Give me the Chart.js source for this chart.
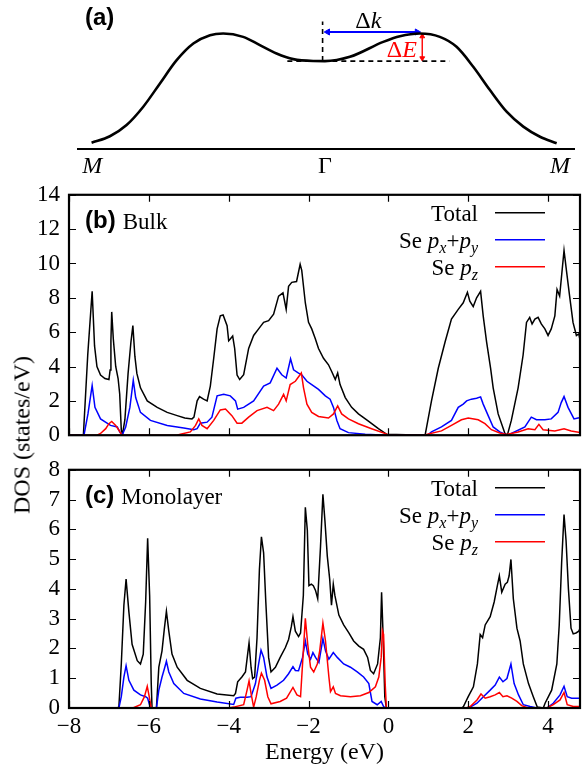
<!DOCTYPE html>
<html>
<head>
<meta charset="utf-8">
<title>Se DOS</title>
<script src="https://cdn.jsdelivr.net/npm/chart.js@4.4.1/dist/chart.umd.min.js"></script>
<style>
  body { margin: 0; background: #fff; }
  #fig { position: relative; width: 582px; height: 771px; overflow: hidden; background: #fff; }
  #fig canvas { position: absolute; left: 0; }
  #dosTitle {
    position: absolute; left: 22px; top: 435px;
    transform: translate(-50%, -50%) rotate(-90deg);
    font: 24px "Liberation Serif", serif; white-space: nowrap; color: #000;
  }
</style>
</head>
<body>
<div id="fig">
  <canvas id="bandChart" width="582" height="180" style="top:0"></canvas>
  <canvas id="bulkChart" width="582" height="286" style="top:172px"></canvas>
  <canvas id="monoChart" width="582" height="324" style="top:447px"></canvas>
  <div id="dosTitle">DOS (states/eV)</div>
</div>
<script>
// ---- tick values ----
const energyTicks = [-8, -6, -4, -2, 0, 2, 4];
const bulkTicks = [0, 2, 4, 6, 8, 10, 12, 14];
const monoTicks = [0, 1, 2, 3, 4, 5, 6, 7, 8];

// ---- (a) band sketch along M - Γ - M (k in units of ΓM) ----
const bandK = [-0.993, -0.915, -0.844, -0.773, -0.702, -0.631, -0.56, -0.489, -0.433, -0.348, -0.277, -0.206, -0.135, -0.05, 0,
               0.106, 0.248, 0.319, 0.404, 0.489, 0.56, 0.631, 0.702, 0.773, 0.844, 0.915, 0.986];
const bandE = [0.054, 0.11, 0.207, 0.365, 0.566, 0.767, 0.911, 0.983, 0.997, 0.968, 0.897, 0.825, 0.776, 0.76, 0.759,
               0.796, 0.925, 0.974, 0.997, 0.968, 0.882, 0.71, 0.509, 0.322, 0.193, 0.106, 0.05];
const valleyE = 0.759;
const peakE = 0.997;
const peakK = 0.404;
const levelK = [-0.16, 0.53];
const gammaMarkTop = 1.10;
const deltaKLevel = 1.01;

// ---- (b) bulk DOS ----
const bulkTotalE = [-8, -7.64, -7.53, -7.42, -7.36, -7.3, -7.21, -7.1, -7.0, -6.97, -6.95, -6.93, -6.89, -6.83, -6.77, -6.73, -6.69, -6.66,
  -6.6, -6.52, -6.45, -6.4, -6.35, -6.3, -6.21, -6.04, -5.79, -5.54, -5.29, -5.1, -4.92, -4.87, -4.79, -4.73, -4.63, -4.54, -4.46,
  -4.375, -4.29, -4.21, -4.14, -4.04, -4.0, -3.96, -3.9, -3.85, -3.79, -3.725, -3.625, -3.5, -3.375, -3.25, -3.125, -3.0, -2.875,
  -2.75, -2.64, -2.56, -2.5, -2.42, -2.3, -2.21, -2.17, -2.08, -2.0, -1.92, -1.83, -1.75, -1.625, -1.5, -1.42, -1.33, -1.27, -1.21,
  -1.08, -0.92, -0.75, -0.5, -0.25, -0.04, 0.92, 1.08, 1.25, 1.42, 1.58, 1.75, 1.875, 1.98, 2.04, 2.125, 2.21, 2.31, 2.375, 2.46,
  2.56, 2.625, 2.75, 2.92, 2.98, 3.08, 3.25, 3.375, 3.46, 3.54, 3.6, 3.67, 3.75, 3.83, 3.92, 4.0, 4.08, 4.17, 4.225, 4.29, 4.4,
  4.46, 4.54, 4.625, 4.71, 4.77, 4.875];
const bulkTotal = [0, 0, 4.7, 8.38, 5.2, 4.0, 3.5, 3.3, 3.24, 3.8, 5.5, 7.18, 5.6, 4.0, 3.3, 2.4, 0.3, 0.05,
  0.9, 3.6, 5.4, 6.38, 4.6, 3.6, 2.76, 2.0, 1.62, 1.33, 1.14, 1.0, 0.95, 1.05, 2.0, 2.25, 2.1, 2.0, 2.86,
  4.48, 6.19, 6.95, 7.0, 6.38, 5.5, 5.6, 5.77, 5.05, 3.5, 3.24, 3.52, 5.05, 5.81, 6.19, 6.57, 6.67, 7.05,
  8.1, 8.29, 7.33, 8.67, 8.9, 8.95, 9.95, 9.6, 7.7, 6.57, 6.19, 5.62, 5.05, 4.48, 4.1, 3.71, 3.24, 3.62, 2.95,
  2.19, 1.62, 1.24, 0.82, 0.38, 0.05, 0, 2.0, 3.9, 5.43, 6.76, 7.33, 7.71, 8.32, 7.81, 7.49, 8.0, 8.38, 6.95, 5.43,
  3.9, 2.76, 1.24, 0.1, 0, 0.86, 2.76, 4.67, 6.57, 6.86, 6.48, 6.76, 6.86, 6.48, 6.19, 5.81, 6.19, 6.95, 8.48, 8.1, 10.76,
  9.6, 8.1, 6.57, 5.81, 5.9, 4.67];

const bulkXyE = [-8, -7.625, -7.525, -7.42, -7.35, -7.21, -6.96, -6.79, -6.73, -6.67, -6.58, -6.475, -6.39, -6.33, -6.21, -5.96,
  -5.54, -5.125, -4.875, -4.79, -4.71, -4.54, -4.42, -4.29, -4.125, -3.96, -3.83, -3.775, -3.625, -3.375, -3.125, -2.96, -2.79,
  -2.67, -2.56, -2.45, -2.375, -2.25, -2.17, -2.04, -1.92, -1.75, -1.58, -1.46, -1.375, -1.29, -1.21, -1.0, -0.58, -0.04, 0.98,
  1.08, 1.33, 1.58, 1.75, 1.875, 1.96, 2.08, 2.21, 2.31, 2.375, 2.5, 2.625, 2.79, 2.92, 3.0, 3.08, 3.42, 3.58, 3.71, 3.92, 4.08,
  4.25, 4.33, 4.4, 4.5, 4.65, 4.75, 4.875];
const bulkXy = [0, 0, 1.24, 2.9, 1.62, 0.95, 0.57, 0.48, 0.19, 0, 0.48, 1.62, 3.2, 2.19, 1.33, 0.86,
  0.57, 0.42, 0.32, 0.38, 0.7, 0.76, 1.05, 2.29, 2.38, 2.29, 2.0, 1.52, 1.62, 2.0, 2.86, 3.05, 3.9,
  3.52, 3.33, 4.45, 3.81, 3.62, 3.52, 3.14, 2.95, 2.67, 2.29, 2.1, 1.62, 0.86, 0.38, 0.15, 0.06, 0, 0,
  0.19, 0.48, 0.86, 1.62, 1.81, 2.0, 2.1, 2.15, 2.23, 1.81, 1.14, 0.48, 0.19, 0.06, 0, 0.1, 0.48, 1.05, 0.9, 0.9, 0.95,
  1.33, 1.9, 2.25, 1.62, 0.95, 1.0, 1.05];

const bulkZE = [-8, -7.3, -7.21, -7.08, -7.0, -6.93, -6.83, -6.75, -6.69, -6.66, -5.3, -5.21, -4.96, -4.83, -4.75, -4.67, -4.54,
  -4.375, -4.21, -4.08, -3.92, -3.79, -3.67, -3.5, -3.29, -3.04, -2.875, -2.75, -2.625, -2.56, -2.46, -2.33, -2.18, -2.125, -2.04,
  -1.92, -1.75, -1.5, -1.375, -1.27, -1.17, -1.0, -0.75, -0.42, -0.04, 0.0, 0.9, 0.98, 1.33, 1.58, 1.83, 2.0, 2.25, 2.42, 2.58,
  2.79, 2.96, 3.25, 3.5, 3.67, 3.77, 3.875, 4.17, 4.4, 4.58, 4.875];
const bulkZ = [0, 0, 0.1, 0.38, 0.67, 0.8, 0.57, 0.29, 0.06, 0, 0, 0.06, 0.19, 0.57, 0.95, 0.57, 0.38,
  0.86, 1.47, 1.52, 1.14, 0.7, 0.7, 1.05, 1.43, 1.62, 1.43, 1.81, 2.38, 2.0, 2.95, 3.14, 3.62, 2.76, 1.81,
  1.33, 1.09, 1.0, 1.24, 1.71, 1.24, 0.95, 0.67, 0.38, 0.06, 0, 0, 0.06, 0.25, 0.57, 0.9, 1.0, 0.9, 0.67, 0.32,
  0.13, 0.04, 0.19, 0.38, 0.32, 0.63, 0.32, 0.25, 0.38, 0.25, 0.13];

// ---- (c) monolayer DOS ----
const monoTotalE = [-8, -6.775, -6.75, -6.69, -6.625, -6.57, -6.5, -6.42, -6.29, -6.21, -6.14, -6.08, -6.03, -5.98, -5.94, -5.92,
  -5.81, -5.75, -5.67, -5.61, -5.56, -5.5, -5.42, -5.29, -5.04, -4.71, -4.29, -3.875, -3.83, -3.775, -3.67, -3.58, -3.525, -3.49,
  -3.44, -3.4, -3.35, -3.29, -3.23, -3.18, -3.125, -3.07, -3.0, -2.94, -2.83, -2.71, -2.58, -2.5, -2.43, -2.39, -2.33, -2.25,
  -2.2, -2.13, -2.08, -2.03, -1.99, -1.93, -1.88, -1.825, -1.77, -1.7, -1.64, -1.59, -1.53, -1.47, -1.425, -1.38, -1.34, -1.24,
  -1.12, -0.99, -0.87, -0.74, -0.62, -0.52, -0.45, -0.37, -0.27, -0.2, -0.17, -0.13, -0.09, -0.05, 1.84, 1.88, 2.0, 2.13, 2.23,
  2.3, 2.36, 2.425, 2.55, 2.65, 2.73, 2.78, 2.84, 2.925, 2.98, 3.025, 3.07, 3.13, 3.22, 3.3, 3.38, 3.51, 3.63, 3.73, 3.88, 3.925,
  4.09, 4.22, 4.28, 4.34, 4.4, 4.45, 4.51, 4.575, 4.63, 4.7, 4.77, 4.84];
const monoTotal = [0, 0, 0.05, 1.48, 3.45, 4.33, 3.23, 2.14, 1.59, 1.48, 1.81, 3.56, 5.7, 3.78, 0.82, 0,
  0, 1.37, 1.92, 2.68, 3.25, 2.58, 1.81, 1.37, 0.93, 0.66, 0.47, 0.41, 0.49, 0.88, 1.04, 1.21, 1.81, 2.19,
  1.37, 0.99, 1.04, 2.36, 4.66, 5.75, 5.21, 3.56, 1.7, 1.21, 1.37, 1.7, 2.03, 2.3, 2.74, 3.07, 2.58, 2.4,
  2.52, 3.78, 6.74, 5.97, 4.11, 4.16, 4.11, 3.95, 3.67, 5.42, 7.18, 6.3, 5.1, 4.33, 3.45, 4.16, 3.78, 3.12,
  2.79, 2.52, 2.25, 2.08, 1.97, 1.7, 1.26, 1.15, 1.48, 2.36, 3.89, 2.36, 0.38, 0, 0, 0.05, 0.38, 0.71, 1.48,
  2.47, 2.36, 2.79, 3.07, 3.56, 4.11, 4.44, 3.89, 4.16, 4.22, 4.44, 4.99, 3.67, 2.68, 2.25, 1.48, 0.82, 0.38, 0.03, 0, 0.16,
  0.6, 1.48, 2.79, 4.88, 6.5, 5.64, 4.0, 2.68, 2.49, 2.52, 2.58, 2.79];

const monoXyE = [-8, -6.75, -6.69, -6.625, -6.57, -6.5, -6.375, -6.21, -6.08, -6.03, -5.96, -5.81, -5.75, -5.67, -5.6, -5.56,
  -5.5, -5.375, -5.125, -4.71, -4.29, -3.875, -3.82, -3.71, -3.54, -3.44, -3.33, -3.25, -3.19, -3.125, -3.04, -2.94, -2.79,
  -2.625, -2.5, -2.39, -2.33, -2.25, -2.15, -2.08, -2.02, -1.95, -1.89, -1.825, -1.74, -1.64, -1.575, -1.49, -1.38, -1.28,
  -1.12, -0.95, -0.78, -0.62, -0.49, -0.41, -0.28, -0.18, -0.12, -0.07, 1.95, 2.05, 2.22, 2.38, 2.55, 2.675, 2.78, 2.87, 2.97,
  3.07, 3.15, 3.26, 3.38, 3.55, 3.72, 3.97, 4.13, 4.3, 4.4, 4.48, 4.59, 4.84];
const monoXy = [0, 0, 0.38, 1.04, 1.42, 0.93, 0.6, 0.44, 0.38, 0.33, 0, 0, 0.6, 1.04, 1.37, 1.57,
  1.21, 0.82, 0.49, 0.3, 0.2, 0.12, 0.33, 0.36, 0.36, 0.38, 0.82, 1.48, 1.94, 1.7, 1.04, 0.66, 0.77,
  0.93, 1.15, 1.39, 1.26, 1.25, 1.7, 2.25, 1.81, 1.64, 1.86, 1.7, 1.53, 2.33, 1.92, 1.64, 1.86, 1.7,
  1.48, 1.37, 1.21, 1.04, 0.82, 0.22, 0.11, 0.22, 0.05, 0, 0, 0.03, 0.16, 0.38, 0.6, 0.77, 1.04, 0.88, 0.99,
  1.48, 0.82, 0.44, 0.11, 0.05, 0, 0, 0.16, 0.44, 0.73, 0.38, 0.33, 0.33];

const monoZE = [-8, -6.4, -6.21, -6.11, -6.04, -5.99, -5.94, -4.0, -3.875, -3.625, -3.54, -3.49, -3.44, -3.375, -3.31, -3.23,
  -3.18, -3.1, -3.02, -2.94, -2.71, -2.55, -2.39, -2.29, -2.2, -2.13, -2.08, -2.02, -1.95, -1.87, -1.78, -1.72, -1.64, -1.575,
  -1.49, -1.45, -1.38, -1.325, -1.2, -0.95, -0.7, -0.49, -0.325, -0.24, -0.18, -0.15, -0.12, -0.08, -0.05, 1.95, 2.05, 2.22,
  2.32, 2.425, 2.55, 2.675, 2.78, 2.87, 2.97, 3.09, 3.22, 3.34, 3.5, 3.97, 4.13, 4.3, 4.4, 4.48, 4.63, 4.84];
const monoZ = [0, 0, 0.11, 0.38, 0.73, 0.38, 0, 0, 0.03, 0.11, 0.6, 0.91, 0.49, 0.03, 0.38, 0.93,
  1.17, 0.93, 0.38, 0.14, 0.22, 0.33, 0.69, 0.44, 0.38, 1.92, 3.01, 2.14, 1.37, 1.21, 1.48, 1.92, 2.85, 2.25,
  1.04, 0.55, 0.71, 0.49, 0.41, 0.38, 0.41, 0.52, 0.71, 1.04, 1.7, 2.6, 2.47, 0.82, 0, 0, 0.05, 0.27,
  0.47, 0.33, 0.38, 0.44, 0.52, 0.38, 0.41, 0.33, 0.22, 0.08, 0, 0, 0.11, 0.27, 0.52, 0.11, 0.05, 0.05];

Chart.defaults.font.family = '"Liberation Serif", serif';
Chart.defaults.color = '#000';

const SERIF = '"Liberation Serif", serif';
const SANS = '"Liberation Sans", Arial, sans-serif';
const pts = (xs, ys) => xs.map((x, i) => ({ x, y: ys[i] }));
const minus = v => (v < 0 ? '\u2212' + Math.abs(v) : String(v));

// legend labels as runs: r = roman, i = italic, s = italic subscript
const legendRuns = [
  [['Total', 'r']],
  [['Se ', 'r'], ['p', 'i'], ['x', 's'], ['+', 'r'], ['p', 'i'], ['y', 's']],
  [['Se ', 'r'], ['p', 'i'], ['z', 's']]
];

function runFont(kind) {
  if (kind === 'i') return 'italic 23px ' + SERIF;
  if (kind === 's') return 'italic 16px ' + SERIF;
  return '23px ' + SERIF;
}

// draws runs so that they end at xRight, centred on y
function drawRuns(ctx, runs, xRight, y) {
  let w = 0;
  runs.forEach(([t, k]) => { ctx.font = runFont(k); w += ctx.measureText(t).width; });
  let x = xRight - w;
  ctx.textAlign = 'left';
  ctx.textBaseline = 'alphabetic';
  runs.forEach(([t, k]) => {
    ctx.font = runFont(k);
    ctx.fillText(t, x, y + 8 + (k === 's' ? 5 : 0));
    x += ctx.measureText(t).width;
  });
}

// gnuplot-like frame: heavy border with inward ticks on all four sides,
// plus panel tag and legend
const panelDecor = {
  id: 'panelDecor',
  afterDatasetsDraw(chart, args, opts) {
    const { ctx, chartArea: a, scales: { x, y } } = chart;
    ctx.save();
    ctx.strokeStyle = '#000';
    ctx.lineWidth = 1.2;
    ctx.beginPath();
    energyTicks.forEach(v => {
      const px = Math.round(x.getPixelForValue(v)) + 0.5;
      ctx.moveTo(px, a.top); ctx.lineTo(px, a.top + 7);
      ctx.moveTo(px, a.bottom); ctx.lineTo(px, a.bottom - 7);
    });
    opts.yTicks.forEach(v => {
      const py = Math.round(y.getPixelForValue(v)) + 0.5;
      ctx.moveTo(a.left, py); ctx.lineTo(a.left + 7, py);
      ctx.moveTo(a.right, py); ctx.lineTo(a.right - 7, py);
    });
    ctx.stroke();
    ctx.lineWidth = 2.2;
    ctx.strokeRect(a.left, a.top, a.right - a.left, a.bottom - a.top);

    // panel tag
    ctx.fillStyle = '#000';
    ctx.textBaseline = 'middle';
    ctx.textAlign = 'left';
    ctx.font = 'bold 24px ' + SANS;
    const tx = a.left + 16, ty = a.top + 27;
    ctx.fillText(opts.tag, tx, ty);
    const tw = ctx.measureText(opts.tag).width;
    ctx.font = '23px ' + SERIF;
    ctx.fillText(opts.name, tx + tw + 7, ty + 1);

    // legend
    chart.data.datasets.forEach((ds, i) => {
      const ry = a.top + 18 + 27 * i;
      ctx.fillStyle = '#000';
      drawRuns(ctx, legendRuns[i], a.right - 102, ry);
      ctx.strokeStyle = ds.borderColor;
      ctx.lineWidth = 1.6;
      ctx.beginPath();
      ctx.moveTo(a.right - 85, ry); ctx.lineTo(a.right - 35, ry);
      ctx.stroke();
    });
    ctx.restore();
  }
};

function dosDatasets(totE, tot, xyE, xy, zE, z) {
  return [
    { label: 'Total', data: pts(totE, tot), borderColor: '#000000', order: 3 },
    { label: 'Se px+py', data: pts(xyE, xy), borderColor: '#0000ff', order: 2 },
    { label: 'Se pz', data: pts(zE, z), borderColor: '#ff0000', order: 1 }
  ].map(d => Object.assign({ borderWidth: 1.5, pointRadius: 0, tension: 0, fill: false }, d));
}

function dosChart(id, datasets, yMax, yTicks, tag, name, withEnergyAxis) {
  return new Chart(document.getElementById(id), {
    type: 'line',
    data: { datasets },
    options: {
      responsive: false,
      animation: false,
      events: [],
      layout: { padding: { left: 0, right: 2, top: 18, bottom: 0 } },
      scales: {
        x: {
          type: 'linear', min: -8, max: 4.8,
          grid: { display: false, drawTicks: false },
          border: { display: false },
          afterBuildTicks: s => { s.ticks = energyTicks.map(v => ({ value: v })); },
          afterFit: s => { s.height = withEnergyAxis ? 63 : 17; },
          ticks: { display: withEnergyAxis, font: { size: 23 }, color: '#000', padding: 5, maxRotation: 0, autoSkip: false, callback: v => minus(v) },
          title: { display: withEnergyAxis, text: 'Energy (eV)', font: { size: 24 }, color: '#000', padding: { top: 0, bottom: 4 } }
        },
        y: {
          min: 0, max: yMax,
          grid: { display: false, drawTicks: false },
          border: { display: false },
          afterBuildTicks: s => { s.ticks = yTicks.map(v => ({ value: v })); },
          afterFit: s => { s.width = 69; },
          ticks: { font: { size: 23 }, color: '#000', padding: 9, autoSkip: false }
        }
      },
      plugins: {
        legend: { display: false },
        tooltip: { enabled: false },
        panelDecor: { yTicks, tag, name }
      }
    },
    plugins: [panelDecor]
  });
}

// (a) band sketch
const bandDecor = {
  id: 'bandDecor',
  afterDatasetsDraw(chart) {
    const { ctx, chartArea: a, scales: { x, y } } = chart;
    ctx.save();
    // k axis
    const y0 = y.getPixelForValue(0);
    ctx.strokeStyle = '#000';
    ctx.lineWidth = 2;
    ctx.beginPath();
    ctx.moveTo(a.left, y0); ctx.lineTo(a.right, y0);
    ctx.stroke();

    ctx.fillStyle = '#000';
    ctx.textBaseline = 'middle';
    ctx.textAlign = 'left';
    ctx.font = 'bold 24px ' + SANS;
    ctx.fillText('(a)', 85, 18);

    ctx.textAlign = 'center';
    ctx.font = 'italic 24px ' + SERIF;
    ctx.fillText('M', x.getPixelForValue(-0.99), y0 + 18);
    ctx.fillText('M', x.getPixelForValue(1.0), y0 + 18);
    ctx.font = '24px ' + SERIF;
    ctx.fillText('\u0393', x.getPixelForValue(0), y0 + 18);

    // Δk label above the blue arrow
    ctx.textAlign = 'left';
    ctx.font = '24px ' + SERIF;
    const dw = ctx.measureText('\u0394').width;
    ctx.font = 'italic 24px ' + SERIF;
    const kw = ctx.measureText('k').width;
    let lx = x.getPixelForValue(peakK / 2) - (dw + kw) / 2 - 4;
    const ly = y.getPixelForValue(deltaKLevel) - 10;
    ctx.font = '24px ' + SERIF;
    ctx.fillText('\u0394', lx, ly);
    ctx.font = 'italic 24px ' + SERIF;
    ctx.fillText('k', lx + dw, ly);

    // ΔE label left of the red arrow
    ctx.fillStyle = '#ff0000';
    const ew = ctx.measureText('E').width;
    const ex = x.getPixelForValue(peakK) - 3 - ew;
    const ey = y.getPixelForValue((peakE + valleyE) / 2) + 3;
    ctx.fillText('E', ex, ey);
    ctx.font = '24px ' + SERIF;
    ctx.fillText('\u0394', ex - dw, ey);
    ctx.restore();
  }
};

new Chart(document.getElementById('bandChart'), {
  type: 'line',
  data: {
    datasets: [
      { data: pts(bandK, bandE), borderColor: '#000', borderWidth: 2.6, pointRadius: 0, cubicInterpolationMode: 'monotone' },
      { data: pts(levelK, [valleyE, valleyE]), borderColor: '#000', borderWidth: 1.6, borderDash: [5, 4], pointRadius: 0 },
      { data: pts([-0.01, -0.01], [valleyE, gammaMarkTop]), borderColor: '#000', borderWidth: 1.6, borderDash: [5, 4], pointRadius: 0 },
      { data: pts([0.012, peakK - 0.012], [deltaKLevel, deltaKLevel]), borderColor: '#0000ff', backgroundColor: '#0000ff',
        borderWidth: 2, pointStyle: 'triangle', pointRadius: 3.5, pointRotation: [270, 90], pointBorderWidth: 1, clip: false },
      { data: pts([peakK + 0.01, peakK + 0.01], [peakE - 0.025, valleyE + 0.025]), borderColor: '#ff0000', backgroundColor: '#ff0000',
        borderWidth: 1.4, pointStyle: 'triangle', pointRadius: 2.8, pointRotation: [0, 180], pointBorderWidth: 1, clip: false }
    ]
  },
  options: {
    responsive: false,
    animation: false,
    events: [],
    layout: { padding: { left: 77, right: 7, top: 10, bottom: 31 } },
    scales: {
      x: { type: 'linear', min: -1.055, max: 1.064, display: false },
      y: { min: 0, max: 1.2, display: false }
    },
    plugins: { legend: { display: false }, tooltip: { enabled: false } }
  },
  plugins: [bandDecor]
});

dosChart('bulkChart', dosDatasets(bulkTotalE, bulkTotal, bulkXyE, bulkXy, bulkZE, bulkZ), 14, bulkTicks, '(b)', 'Bulk', false);
dosChart('monoChart', dosDatasets(monoTotalE, monoTotal, monoXyE, monoXy, monoZE, monoZ), 8, monoTicks, '(c)', 'Monolayer', true);
</script>
</body>
</html>
